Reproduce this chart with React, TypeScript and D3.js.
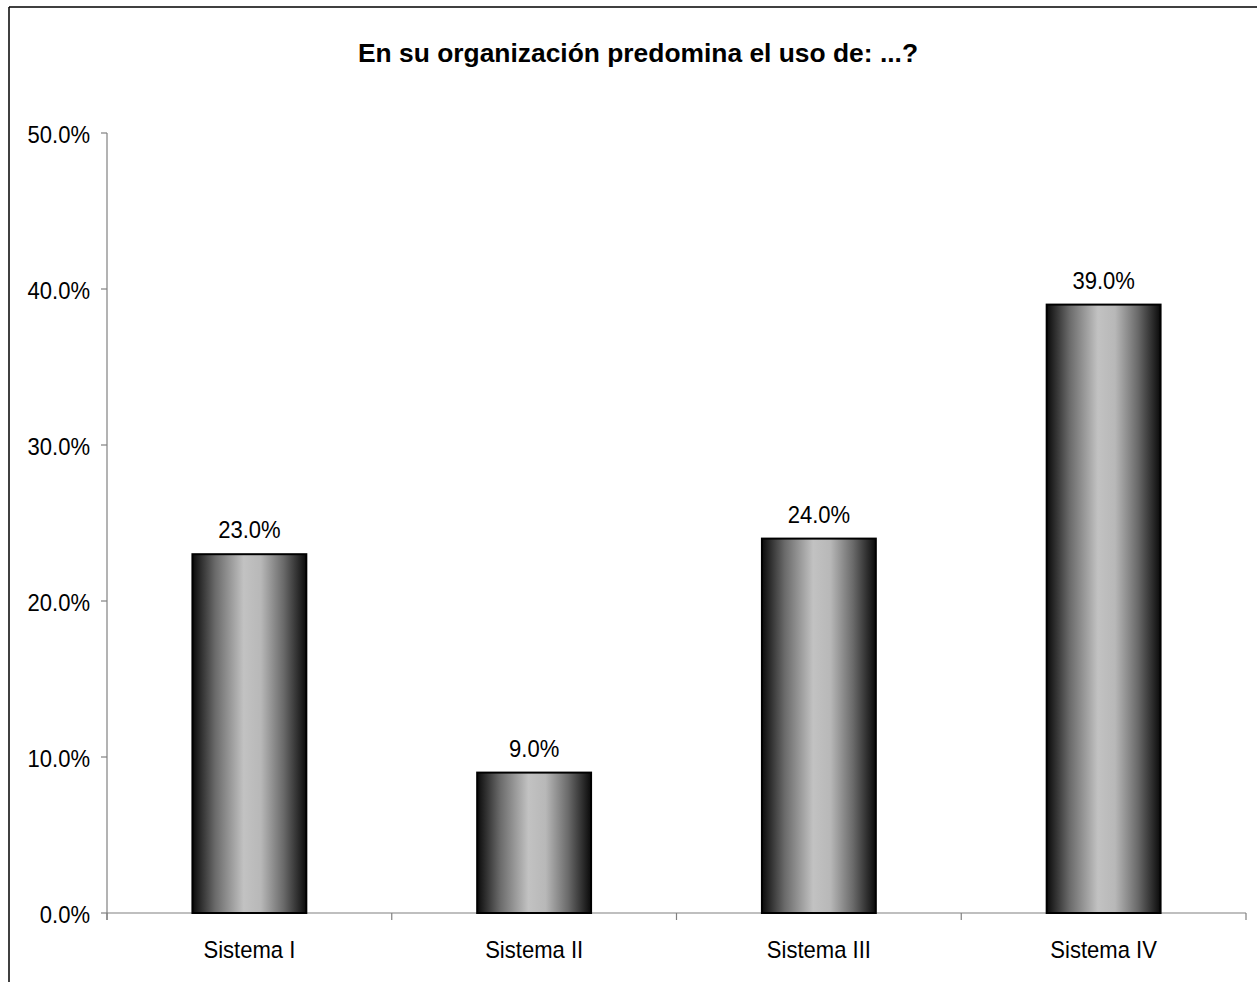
import * as React from "react";
import * as d3 from "d3";

const categories = ["Sistema I", "Sistema II", "Sistema III", "Sistema IV"];
const values = [0.23, 0.09, 0.24, 0.39];
const yTicks = [0, 0.1, 0.2, 0.3, 0.4, 0.5];
const title = "En su organización predomina el uso de: ...?";

const W = 1257;
const H = 982;
const margin = { top: 133, right: 11, bottom: 69, left: 107 };

// text in the original is a bit taller than it is wide
const Label = ({ x, y, anchor, dy, children }: any) => (
  <text
    transform={`translate(${x},${y}) scale(0.9,1)`}
    dy={dy}
    textAnchor={anchor}
    fontSize={24.5}
    fill="#000"
  >
    {children}
  </text>
);

export default function App() {
  const innerW = W - margin.left - margin.right;
  const innerH = H - margin.top - margin.bottom;

  const x = d3.scaleBand().domain(categories).range([0, innerW]).paddingInner(0.6).paddingOuter(0.3);
  const y = d3.scaleLinear().domain([0, 0.5]).range([innerH, 0]);
  const fmt = d3.format(".1%");
  const step = innerW / categories.length;
  const font = "'Liberation Sans', Arial, sans-serif";

  return (
    <svg width={W} height={H} style={{ position: "absolute", left: 0, top: 0, background: "#fff" }}>
      <defs>
        <linearGradient id="barGrad" x1="0" x2="1" y1="0" y2="0">
          <stop offset="0" stopColor="#0a0a0a" />
          <stop offset="0.2" stopColor="#6a6a6a" />
          <stop offset="0.45" stopColor="#c2c2c2" />
          <stop offset="0.6" stopColor="#b8b8b8" />
          <stop offset="0.8" stopColor="#6a6a6a" />
          <stop offset="1" stopColor="#0a0a0a" />
        </linearGradient>
      </defs>
      {/* chart area border, cut off at right and bottom */}
      <line x1={9} x2={9} y1={7} y2={H} stroke="#000" strokeWidth={1.5} />
      <line x1={9} x2={W} y1={7} y2={7} stroke="#000" strokeWidth={1.5} />

      <text
        x={638}
        y={62}
        textAnchor="middle"
        fontFamily={font}
        fontWeight="bold"
        fontSize={26}
        textLength={560}
        lengthAdjust="spacingAndGlyphs"
      >
        {title}
      </text>

      <g transform={`translate(${margin.left},${margin.top})`} fontFamily={font}>
        {/* y axis */}
        <line x1={0} x2={0} y1={0} y2={innerH + 7} stroke="#808080" strokeWidth={1.2} />
        {yTicks.map((t) => (
          <g key={t}>
            <line x1={-6} x2={0} y1={y(t)} y2={y(t)} stroke="#808080" strokeWidth={1.2} />
            <Label x={-17} y={y(t)} anchor="end" dy="0.4em">
              {fmt(t)}
            </Label>
          </g>
        ))}

        {/* x axis */}
        <line x1={0} x2={innerW} y1={innerH} y2={innerH} stroke="#808080" strokeWidth={1.2} />
        {d3.range(categories.length + 1).map((i) => (
          <line key={i} x1={i * step} x2={i * step} y1={innerH} y2={innerH + 7} stroke="#808080" strokeWidth={1.2} />
        ))}
        {categories.map((c) => (
          <Label key={c} x={(x(c) ?? 0) + x.bandwidth() / 2} y={innerH + 45} anchor="middle">
            {c}
          </Label>
        ))}

        {/* bars */}
        {categories.map((c, i) => (
          <g key={c}>
            <rect
              x={x(c)}
              y={y(values[i])}
              width={x.bandwidth()}
              height={innerH - y(values[i])}
              fill="url(#barGrad)"
              stroke="#000"
              strokeWidth={2}
            />
            <Label x={(x(c) ?? 0) + x.bandwidth() / 2} y={y(values[i]) - 16} anchor="middle">
              {fmt(values[i])}
            </Label>
          </g>
        ))}
      </g>
    </svg>
  );
}
